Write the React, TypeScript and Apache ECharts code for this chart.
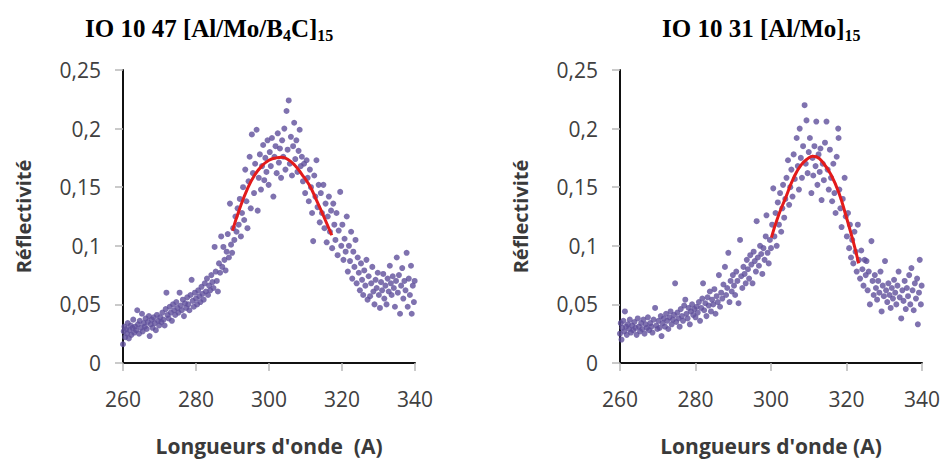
import React, { useEffect, useRef } from "react";
import * as echarts from "echarts";

const xTickValues = [260, 280, 300, 320, 340];
const yTickLabels = ["0", "0,05", "0,1", "0,15", "0,2", "0,25"];
const yAxisTitle = "Réflectivité";
const xAxisTitles = ["Longueurs d'onde  (A)", "Longueurs d'onde (A)"];

// Left panel: IO 10 47 [Al/Mo/B4C]15
const leftPoints: [number, number][] = [
  [260.0,0.016],[260.2,0.027],[260.4,0.031],[260.6,0.022],[260.9,0.029],[261.1,0.025],[261.3,0.034],[261.6,0.021],[261.8,0.028],[262.1,0.032],[262.3,0.024],[262.6,0.03],[262.8,0.037],[263.1,0.026],[263.3,0.031],[263.6,0.028],[263.9,0.045],[264.1,0.033],[264.4,0.025],[264.6,0.036],[264.9,0.03],[265.2,0.042],[265.4,0.027],[265.7,0.034],[266.0,0.031],[266.2,0.038],[266.5,0.029],[266.8,0.035],[267.1,0.04],[267.3,0.023],[267.6,0.033],[267.9,0.037],[268.1,0.03],[268.4,0.039],[268.7,0.034],[269.0,0.028],[269.3,0.041],[269.6,0.036],[269.9,0.032],
  [270.2,0.039],[270.5,0.035],[270.8,0.043],[271.1,0.037],[271.4,0.032],[271.7,0.046],[271.9,0.06],[272.2,0.041],[272.5,0.038],[272.8,0.048],[273.1,0.043],[273.4,0.036],[273.7,0.05],[274.0,0.045],[274.3,0.041],[274.6,0.052],[274.9,0.047],[275.2,0.043],[275.5,0.06],[275.8,0.049],[276.1,0.045],[276.4,0.054],[276.7,0.04],[277.0,0.051],[277.3,0.047],[277.6,0.056],[277.9,0.05],[278.2,0.045],[278.5,0.058],[278.8,0.071],[279.1,0.053],[279.4,0.048],[279.7,0.06],
  [280.0,0.055],[280.3,0.05],[280.6,0.062],[280.9,0.057],[281.2,0.052],[281.5,0.065],[281.8,0.059],[282.1,0.054],[282.4,0.068],[282.7,0.061],[283.0,0.072],[283.3,0.058],[283.6,0.066],[283.9,0.062],[284.2,0.075],[284.5,0.069],[284.8,0.064],[285.1,0.099],[285.4,0.078],[285.7,0.07],[286.0,0.061],[286.3,0.085],[286.6,0.077],[286.9,0.108],[287.2,0.082],[287.5,0.099],[287.8,0.088],[288.1,0.079],[288.4,0.095],[288.7,0.11],[289.0,0.09],[289.3,0.136],[289.6,0.101],[289.9,0.094],
  [290.2,0.115],[290.5,0.105],[290.8,0.125],[291.1,0.112],[291.4,0.132],[291.7,0.118],[292.0,0.14],[292.3,0.108],[292.6,0.128],[292.9,0.15],[293.2,0.122],[293.5,0.165],[293.8,0.138],[294.1,0.115],[294.4,0.155],[294.7,0.176],[295.0,0.132],[295.3,0.195],[295.6,0.162],[295.9,0.145],[296.2,0.17],[296.6,0.199],[296.9,0.13],[297.2,0.158],[297.5,0.178],[297.8,0.148],[298.1,0.168],[298.4,0.186],[298.7,0.156],[299.0,0.175],[299.3,0.163],[299.6,0.19],[299.9,0.152],
  [300.2,0.18],[300.5,0.168],[300.8,0.192],[301.2,0.142],[301.5,0.176],[301.8,0.185],[302.1,0.162],[302.4,0.196],[302.7,0.171],[303.0,0.183],[303.3,0.158],[303.6,0.19],[303.9,0.176],[304.2,0.2],[304.5,0.165],[304.8,0.215],[305.1,0.182],[305.4,0.224],[305.7,0.17],[306.0,0.193],[306.3,0.16],[306.6,0.185],[306.9,0.205],[307.2,0.174],[307.5,0.19],[307.8,0.163],[308.1,0.181],[308.4,0.199],[308.7,0.168],[309.0,0.176],[309.3,0.155],[309.6,0.17],[309.9,0.145],
  [310.3,0.173],[310.6,0.158],[310.9,0.138],[311.2,0.165],[311.5,0.15],[311.8,0.128],[312.1,0.104],[312.4,0.16],[312.7,0.142],[313.0,0.173],[313.3,0.133],[313.6,0.152],[313.9,0.12],[314.2,0.145],[314.5,0.128],[314.9,0.152],[315.2,0.115],[315.5,0.136],[315.8,0.103],[316.1,0.125],[316.4,0.142],[316.7,0.112],[317.0,0.13],[317.3,0.098],[317.6,0.136],[317.9,0.118],[318.2,0.105],[318.5,0.128],[318.8,0.092],[319.1,0.113],[319.5,0.146],[319.8,0.1],
  [320.1,0.118],[320.4,0.088],[320.7,0.106],[321.0,0.095],[321.3,0.125],[321.6,0.078],[321.9,0.1],[322.2,0.087],[322.5,0.112],[322.8,0.072],[323.1,0.095],[323.4,0.082],[323.7,0.105],[324.0,0.068],[324.3,0.09],[324.6,0.077],[324.9,0.062],[325.2,0.085],[325.5,0.071],[325.8,0.058],[326.1,0.079],[326.4,0.066],[326.7,0.088],[327.0,0.054],[327.3,0.074],[327.7,0.057],[328.0,0.068],[328.3,0.082],[328.6,0.061],[328.9,0.05],[329.2,0.071],[329.5,0.064],[329.8,0.077],
  [330.1,0.058],[330.4,0.047],[330.7,0.069],[331.0,0.062],[331.3,0.076],[331.6,0.055],[331.9,0.066],[332.2,0.05],[332.5,0.072],[332.8,0.061],[333.1,0.083],[333.4,0.068],[333.6,0.058],[333.9,0.074],[334.2,0.064],[334.5,0.048],[334.8,0.07],[335.0,0.09],[335.3,0.06],[335.6,0.075],[335.9,0.042],[336.2,0.066],[336.5,0.081],[336.8,0.055],[337.1,0.07],[337.4,0.062],[337.7,0.094],[338.0,0.048],[338.3,0.072],[338.6,0.058],[338.9,0.083],[339.1,0.042],[339.4,0.066],[339.7,0.052],[339.9,0.07],
];

const leftFit: [number, number][] = [
  [290.0,0.113],[292,0.132],[294,0.148],[296,0.16],[298,0.168],[300,0.173],[302,0.175],[303.5,0.1755],[305,0.174],[307,0.169],[309,0.161],[311,0.152],[313,0.139],[315,0.125],[317.2,0.109],
];

// Right panel: IO 10 31 [Al/Mo]15
const rightPoints: [number, number][] = [
  [260.0,0.025],[260.2,0.034],[260.4,0.02],[260.6,0.03],[260.9,0.036],[261.1,0.027],[261.3,0.044],[261.6,0.031],[261.8,0.024],[262.1,0.033],[262.4,0.029],[262.6,0.037],[262.9,0.026],[263.2,0.032],[263.5,0.028],[263.8,0.035],[264.1,0.03],[264.4,0.024],[264.7,0.038],[265.0,0.031],[265.3,0.027],[265.6,0.034],[265.9,0.029],[266.2,0.037],[266.5,0.025],[266.8,0.033],[267.1,0.03],[267.4,0.039],[267.7,0.028],[268.0,0.034],[268.3,0.031],[268.6,0.026],[268.9,0.037],[269.3,0.047],[269.6,0.032],[269.9,0.029],
  [270.2,0.036],[270.5,0.03],[270.8,0.04],[271.0,0.023],[271.3,0.034],[271.6,0.038],[271.9,0.031],[272.2,0.042],[272.5,0.036],[272.8,0.029],[273.1,0.039],[273.4,0.044],[273.7,0.033],[274.0,0.037],[274.3,0.041],[274.6,0.068],[274.9,0.035],[275.2,0.043],[275.5,0.038],[275.8,0.031],[276.1,0.046],[276.4,0.04],[276.7,0.036],[277.0,0.049],[277.3,0.054],[277.6,0.042],[277.9,0.038],[278.2,0.047],[278.5,0.033],[278.8,0.044],[279.1,0.05],[279.4,0.041],[279.7,0.046],
  [280.0,0.039],[280.3,0.048],[280.6,0.043],[280.9,0.052],[281.2,0.036],[281.5,0.047],[281.8,0.055],[282.0,0.068],[282.3,0.045],[282.6,0.051],[282.9,0.04],[283.2,0.056],[283.5,0.049],[283.8,0.061],[284.1,0.044],[284.4,0.054],[284.7,0.05],[285.0,0.063],[285.3,0.042],[285.6,0.057],[285.9,0.052],[286.2,0.075],[286.5,0.048],[286.8,0.06],[287.1,0.055],[287.4,0.067],[287.8,0.082],[288.1,0.058],[288.4,0.064],[288.7,0.094],[289.0,0.052],[289.3,0.07],[289.6,0.061],[289.9,0.075],
  [290.2,0.066],[290.5,0.058],[290.8,0.078],[291.1,0.07],[291.4,0.051],[291.8,0.105],[292.1,0.074],[292.4,0.064],[292.7,0.082],[293.0,0.076],[293.3,0.068],[293.6,0.088],[293.9,0.08],[294.2,0.072],[294.5,0.092],[294.8,0.084],[295.1,0.068],[295.4,0.095],[295.7,0.087],[296.0,0.078],[296.2,0.121],[296.5,0.09],[296.8,0.083],[297.1,0.1],[297.4,0.093],[297.7,0.076],[298.0,0.098],[298.3,0.088],[298.6,0.108],[298.8,0.126],[299.1,0.094],[299.4,0.085],[299.7,0.105],
  [300.0,0.098],[300.3,0.118],[300.6,0.149],[300.9,0.108],[301.2,0.128],[301.5,0.1],[301.8,0.137],[302.1,0.118],[302.4,0.145],[302.7,0.112],[303.0,0.132],[303.2,0.152],[303.5,0.124],[303.8,0.14],[304.1,0.158],[304.5,0.173],[304.8,0.135],[305.1,0.15],[305.4,0.165],[305.7,0.142],[306.0,0.178],[306.3,0.157],[306.8,0.192],[307.1,0.168],[307.4,0.148],[307.6,0.2],[307.9,0.175],[308.2,0.158],[308.5,0.185],[308.9,0.22],[309.2,0.17],[309.4,0.207],[309.7,0.162],
  [310.0,0.18],[310.3,0.192],[310.7,0.145],[311.0,0.175],[311.2,0.16],[311.5,0.185],[311.8,0.168],[312.0,0.206],[312.3,0.152],[312.6,0.178],[312.9,0.163],[313.1,0.183],[313.4,0.139],[313.7,0.17],[314.0,0.156],[314.3,0.188],[314.7,0.206],[315.0,0.165],[315.3,0.148],[315.6,0.182],[315.9,0.158],[316.2,0.138],[316.5,0.17],[316.8,0.145],[317.1,0.128],[317.4,0.176],[317.8,0.2],[317.9,0.192],[318.1,0.148],[318.4,0.132],[318.7,0.116],[319.0,0.14],[319.5,0.158],[319.8,0.125],
  [320.1,0.108],[320.4,0.128],[320.7,0.098],[320.9,0.118],[321.2,0.09],[321.5,0.105],[321.8,0.085],[322.1,0.112],[322.4,0.095],[322.7,0.078],[323.0,0.118],[323.3,0.088],[323.6,0.072],[323.9,0.096],[324.2,0.08],[324.5,0.066],[324.8,0.088],[325.1,0.075],[325.3,0.087],[325.6,0.062],[325.9,0.078],[326.2,0.05],[326.6,0.104],[326.9,0.07],[327.2,0.058],[327.5,0.075],[327.8,0.064],[328.1,0.054],[328.4,0.07],[328.7,0.06],[329.0,0.078],[329.3,0.044],[329.6,0.066],[329.9,0.057],
  [330.2,0.087],[330.5,0.062],[330.8,0.052],[331.1,0.068],[331.4,0.058],[331.7,0.047],[332.0,0.064],[332.3,0.055],[332.6,0.071],[332.9,0.06],[333.2,0.05],[333.5,0.066],[333.8,0.078],[334.1,0.056],[334.5,0.038],[334.8,0.062],[335.1,0.053],[335.4,0.07],[335.7,0.046],[336.0,0.064],[336.3,0.057],[336.6,0.075],[336.9,0.05],[337.2,0.081],[337.5,0.062],[337.8,0.045],[338.1,0.068],[338.4,0.055],[338.7,0.072],[338.9,0.033],[339.2,0.06],[339.4,0.088],[339.7,0.05],[339.9,0.066],
];

const rightFit: [number, number][] = [
  [300.1,0.107],[302,0.126],[304,0.142],[306,0.158],[308,0.169],[310,0.175],[311,0.1765],[312,0.176],[314,0.17],[316,0.16],[318,0.145],[320,0.124],[322,0.101],[323.2,0.085],
];

const DOT = "#5f4f9b";
const FIT = "#e31b1b";
const LABEL_FONT = "Open Sans";

function makeXAxis(gridIndex: number, title: string) {
  return {
    type: "value",
    gridIndex,
    min: 260,
    max: 340,
    interval: 20,
    name: title,
    nameLocation: "middle",
    nameGap: 72,
    nameTextStyle: { fontFamily: LABEL_FONT, fontWeight: "bold", fontSize: 21, color: "#3a3a3a" },
    axisLine: { show: true, onZero: false, lineStyle: { color: "#111111", width: 2 } },
    axisTick: { show: true, length: 8, lineStyle: { color: "#b8b8b8", width: 1.5 } },
    splitLine: { show: false },
    axisLabel: {
      margin: 25,
      fontFamily: LABEL_FONT,
      fontSize: 21,
      color: "#404040",
      formatter: (v: number) => (xTickValues.includes(v) ? String(v) : ""),
    },
  };
}

function makeYAxis(gridIndex: number) {
  return {
    type: "value",
    gridIndex,
    min: 0,
    max: 0.25,
    interval: 0.05,
    name: yAxisTitle,
    nameLocation: "middle",
    nameGap: 90,
    nameTextStyle: { fontFamily: LABEL_FONT, fontWeight: "bold", fontSize: 20, color: "#3a3a3a" },
    axisLine: { show: true, lineStyle: { color: "#111111", width: 2 } },
    axisTick: { show: true, length: 8, lineStyle: { color: "#b8b8b8", width: 1.5 } },
    splitLine: { show: false },
    axisLabel: {
      margin: 22,
      fontFamily: LABEL_FONT,
      fontSize: 21,
      color: "#404040",
      formatter: (v: number) => yTickLabels[Math.round(v / 0.05)],
    },
  };
}

const titleRich = {
  n: { fontFamily: "Liberation Serif", fontWeight: "bold", fontSize: 25, color: "#000", lineHeight: 27, verticalAlign: "top" },
  s: { fontFamily: "Liberation Serif", fontWeight: "bold", fontSize: 16, color: "#000", lineHeight: 13, padding: [12, 0, 0, 0], verticalAlign: "bottom" },
};

export default function App() {
  const ref = useRef<HTMLDivElement>(null);
  useEffect(() => {
    document.body.style.margin = "0";
    if (!ref.current) return;
    const chart = echarts.init(ref.current, null, { renderer: "svg" });
    chart.setOption({
      animation: false,
      backgroundColor: "#ffffff",
      title: [
        {
          text: "{n|IO 10 47 [Al/Mo/B}{s|4}{n|C]}{s|15}",
          left: 80,
          top: 11,
          textStyle: { rich: titleRich },
        },
        {
          text: "{n|IO 10 31 [Al/Mo]}{s|15}",
          left: 657,
          top: 11,
          textStyle: { rich: titleRich },
        },
      ],
      grid: [
        { left: 123, top: 70, width: 292, height: 293 },
        { left: 620, top: 70, width: 302, height: 293 },
      ],
      xAxis: [makeXAxis(0, xAxisTitles[0]), makeXAxis(1, xAxisTitles[1])],
      yAxis: [makeYAxis(0), makeYAxis(1)],
      series: [
        { type: "scatter", xAxisIndex: 0, yAxisIndex: 0, data: leftPoints, symbol: "circle", symbolSize: 6, itemStyle: { color: DOT }, z: 2 },
        { type: "line", xAxisIndex: 0, yAxisIndex: 0, data: leftFit, smooth: true, showSymbol: false, lineStyle: { color: FIT, width: 3 }, z: 3 },
        { type: "scatter", xAxisIndex: 1, yAxisIndex: 1, data: rightPoints, symbol: "circle", symbolSize: 6, itemStyle: { color: DOT }, z: 2 },
        { type: "line", xAxisIndex: 1, yAxisIndex: 1, data: rightFit, smooth: true, showSymbol: false, lineStyle: { color: FIT, width: 3 }, z: 3 },
      ],
    });
    return () => chart.dispose();
  }, []);
  return <div ref={ref} style={{ width: 945, height: 465 }} />;
}
